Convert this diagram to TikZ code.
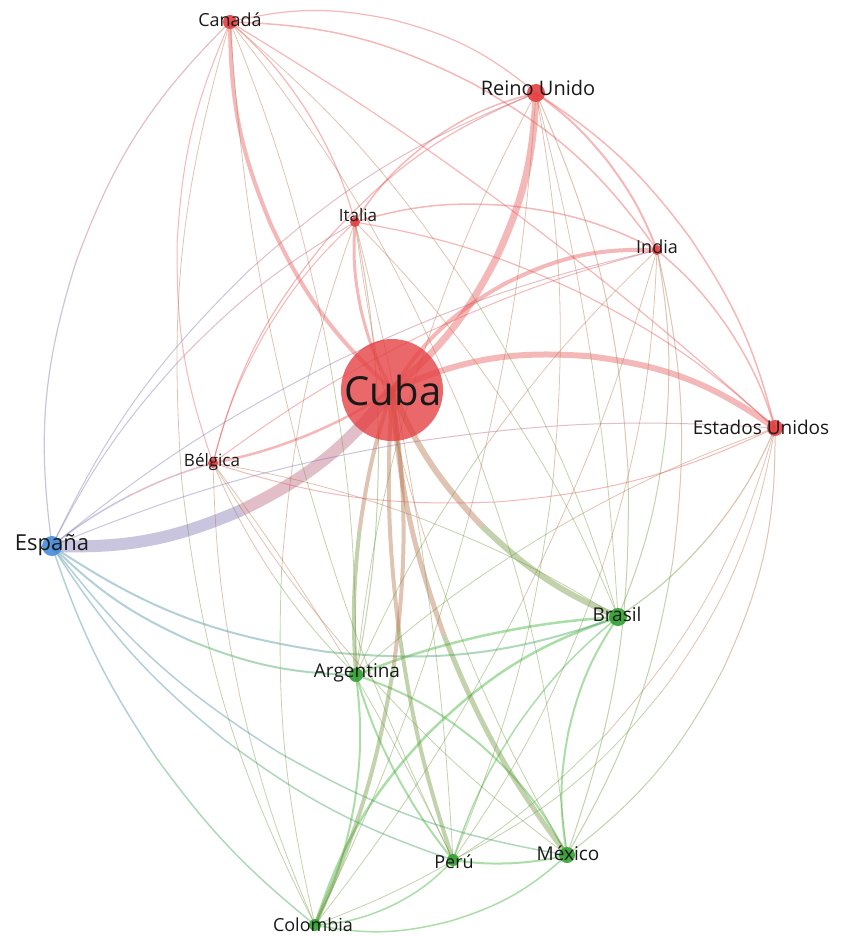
\documentclass[tikz,border=0pt]{standalone}
\usepackage{fontspec}
\setmainfont{Open Sans}
\usetikzlibrary{calc}
\pgfdeclarelayer{bg}
\pgfsetlayers{bg,main}
\definecolor{rr}{RGB}{232,85,85}
\definecolor{gg}{RGB}{55,175,45}
\definecolor{bb}{RGB}{80,130,215}
\definecolor{nodeR}{RGB}{228,62,64}
\definecolor{nodeG}{RGB}{50,160,50}
\definecolor{nodeB}{RGB}{70,140,215}
\definecolor{txt}{RGB}{25,25,25}
% cluster colour of each node
\def\cC{rr}\def\cCA{rr}\def\cRU{rr}\def\cIT{rr}\def\cIN{rr}\def\cEU{rr}\def\cBE{rr}
\def\cES{bb}
\def\cBR{gg}\def\cAR{gg}\def\cMX{gg}\def\cPE{gg}\def\cCO{gg}
% edge: width, from, to, bend (drawn as two halves shading from one colour to the other)
\newcommand{\ed}[4]{%
  \edef\ca{\csname c#2\endcsname}\edef\cb{\csname c#3\endcsname}%
  \pgfmathsetmacro\hb{#4/2}%
  \pgfmathsetmacro\kf{0.5872*sin(#4)}%
  \coordinate (m#2#3) at ($(#2)!0.5!(#3)$);
  \coordinate (n#2#3) at ($(m#2#3)!\kf!90:(#3)$);
  \draw[line width=#1pt,draw=\ca!70!\cb,draw opacity=0.42] (#2.center) to[bend left=\hb] (n#2#3);
  \draw[line width=#1pt,draw=\ca!30!\cb,draw opacity=0.42] (n#2#3) to[bend left=\hb] (#3.center);
}
\tikzset{
  dot/.style={circle,inner sep=0pt,minimum size=#1},
  rdot/.style={dot=#1,fill=nodeR,fill opacity=0.9},
  gdot/.style={dot=#1,fill=nodeG,fill opacity=0.9},
  bdot/.style={dot=#1,fill=nodeB,fill opacity=0.9},
  lbl/.style={text=txt,inner sep=0pt,font=\fontsize{#1}{#1}\selectfont},
}
\begin{document}
\begin{tikzpicture}[x=1pt,y=1pt]
\useasboundingbox (0,0) rectangle (855,-936);
% node dots
\node[dot=102pt,fill=nodeR,fill opacity=0.78] (C) at (392,-390) {};
\node[rdot=14pt] (CA) at (230,-22) {};
\node[rdot=18pt] (RU) at (536,-93) {};
\node[rdot=10pt] (IT) at (355,-222) {};
\node[rdot=10pt] (IN) at (657,-250) {};
\node[rdot=16pt] (EU) at (775,-428) {};
\node[rdot=10pt] (BE) at (213,-463) {};
\node[bdot=20pt] (ES) at (52,-546) {};
\node[gdot=18pt] (BR) at (618,-617) {};
\node[gdot=14pt] (AR) at (356,-675) {};
\node[gdot=16pt] (MX) at (567,-855) {};
\node[gdot=12pt] (PE) at (453,-860) {};
\node[gdot=12pt] (CO) at (315,-925) {};
% labels
\node[lbl=40] (Cl) at (393,-390) {Cuba};
\node[lbl=18] (CAl) at (230,-20) {Canadá};
\node[lbl=20] (RUl) at (538,-88) {Reino Unido};
\node[lbl=17] (ITl) at (358,-215) {Italia};
\node[lbl=18] (INl) at (657,-247) {India};
\node[lbl=19] (EUl) at (761,-427) {Estados Unidos};
\node[lbl=17] (BEl) at (212,-462) {Bélgica};
\node[lbl=22] (ESl) at (52,-545) {España};
\node[lbl=19] (BRl) at (617,-614) {Brasil};
\node[lbl=19] (ARl) at (357,-673) {Argentina};
\node[lbl=19] (MXl) at (568,-853) {México};
\node[lbl=18] (PEl) at (454,-862) {Perú};
\node[lbl=18] (COl) at (313,-925) {Colombia};
\begin{pgfonlayer}{bg}
% red-red
\ed{4}{C}{CA}{22}
\ed{7}{RU}{C}{22}
\ed{3}{C}{IT}{15}
\ed{4}{C}{IN}{28}
\ed{6}{C}{EU}{28}
\ed{2.5}{C}{BE}{10}
\ed{1.2}{CA}{RU}{25}
\ed{1.2}{CA}{IT}{15}
\ed{1.5}{CA}{IN}{25}
\ed{1.2}{CA}{EU}{5}
\ed{1}{CA}{BE}{-20}
\ed{1.5}{RU}{IT}{-20}
\ed{2}{RU}{IN}{15}
\ed{1.5}{RU}{EU}{20}
\ed{1.2}{RU}{BE}{-25}
\ed{1.5}{IT}{IN}{20}
\ed{1.2}{IT}{EU}{15}
\ed{1}{IT}{BE}{-15}
\ed{1.5}{IN}{EU}{15}
\ed{1}{IN}{BE}{-10}
\ed{1}{EU}{BE}{20}
% blue-red
\ed{12}{C}{ES}{25}
\ed{1.2}{ES}{CA}{25}
\ed{1}{ES}{RU}{20}
\ed{1}{ES}{IT}{15}
\ed{1}{ES}{IN}{12}
\ed{1}{ES}{EU}{12}
\ed{1.5}{ES}{BE}{10}
% green
\ed{2.5}{AR}{BR}{8}
\ed{2.5}{CO}{BR}{25}
\ed{2}{AR}{MX}{20}
\ed{2}{AR}{PE}{-10}
\ed{2}{AR}{CO}{15}
\ed{2}{BR}{MX}{-20}
\ed{1.5}{BR}{PE}{-15}
\ed{2}{MX}{PE}{10}
\ed{1.5}{CO}{MX}{-25}
\ed{1.5}{PE}{CO}{20}
% blue-green
\ed{2}{ES}{BR}{-25}
\ed{2}{ES}{AR}{-20}
\ed{1.5}{ES}{MX}{-20}
\ed{1.5}{ES}{PE}{-18}
\ed{1.5}{ES}{CO}{-15}
% red-green
\ed{6}{BR}{C}{20}
\ed{5}{MX}{C}{15}
\ed{4}{C}{CO}{15}
\ed{4}{PE}{C}{10}
\ed{4}{AR}{C}{10}
\ed{0.8}{CA}{AR}{10}
\ed{0.8}{CA}{BR}{15}
\ed{0.8}{CA}{MX}{15}
\ed{0.8}{CA}{CO}{-20}
\ed{0.8}{CA}{PE}{-10}
\ed{0.8}{RU}{AR}{-10}
\ed{0.8}{RU}{BR}{5}
\ed{1}{RU}{MX}{20}
\ed{0.8}{RU}{PE}{15}
\ed{0.8}{RU}{CO}{10}
\ed{1}{IT}{AR}{10}
\ed{0.8}{IT}{BR}{10}
\ed{0.8}{IT}{MX}{-10}
\ed{0.8}{IT}{PE}{5}
\ed{0.8}{IT}{CO}{-15}
\ed{0.8}{IN}{AR}{-10}
\ed{1}{IN}{BR}{15}
\ed{1}{IN}{MX}{20}
\ed{0.8}{IN}{PE}{15}
\ed{0.8}{IN}{CO}{10}
\ed{0.8}{EU}{AR}{-10}
\ed{1.2}{EU}{BR}{15}
\ed{1}{EU}{MX}{25}
\ed{0.8}{EU}{PE}{25}
\ed{0.8}{EU}{CO}{25}
\ed{0.8}{BE}{AR}{-10}
\ed{0.8}{BE}{BR}{10}
\ed{0.8}{BE}{MX}{-10}
\ed{0.8}{BE}{PE}{5}
\ed{0.8}{BE}{CO}{-10}
\end{pgfonlayer}
\end{tikzpicture}
\end{document}
